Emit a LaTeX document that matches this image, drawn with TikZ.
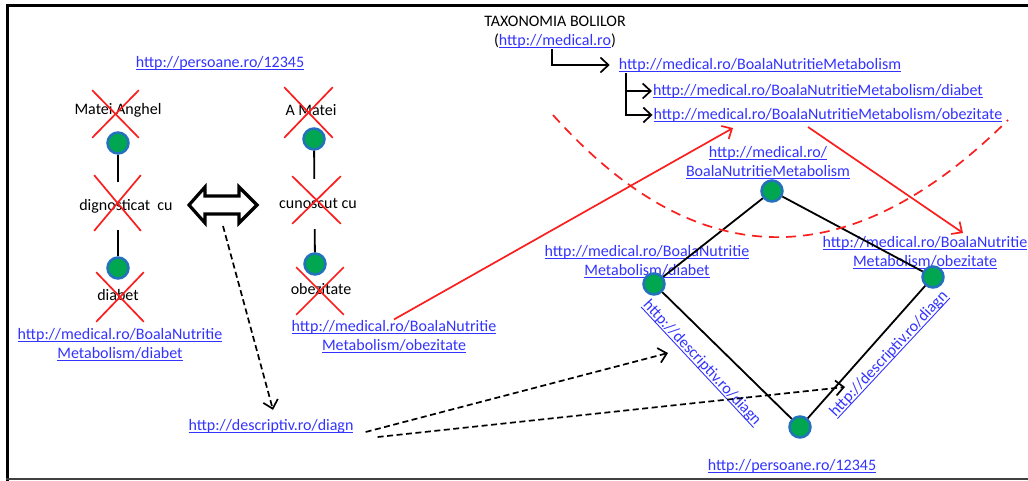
\documentclass[tikz,border=0pt]{standalone}
\usepackage{fontspec}
\setmainfont{Carlito}
\usetikzlibrary{arrows.meta,shapes.misc}
\definecolor{linkblue}{RGB}{51,51,255}
\definecolor{xred}{RGB}{250,30,30}
\definecolor{dotgreen}{RGB}{0,166,80}
\definecolor{dotblue}{RGB}{36,113,190}
% underlined hyperlink-style text
\newcommand\lnk[1]{\setbox0=\hbox{#1}\rlap{\rule[-2.6pt]{\wd0}{0.9pt}}\box0}
\tikzset{
  txt/.style={text=black, font=\fontsize{16}{19}\selectfont, align=center, inner sep=1pt},
  weblink/.style={txt, text=linkblue},
  dot/.style={circle, fill=dotgreen, draw=dotblue, line width=2.5pt, minimum size=21pt, inner sep=0pt},
  xmark/.style={cross out, draw=xred, line width=1.7pt, inner sep=0pt},
  edge/.style={line width=1.8pt},
  redarrow/.style={draw=xred, line width=1.7pt, -{Straight Barb[length=8pt,width=15pt]}},
  reddash/.style={draw=xred, line width=1.7pt, dash pattern=on 10pt off 7pt},
  dasharrow/.style={line width=1.7pt, dash pattern=on 6pt off 3.5pt, -{Straight Barb[length=8pt,width=15pt]}},
  taxarrow/.style={line width=1.7pt, -{Straight Barb[length=8pt,width=15pt]}, rounded corners=0pt},
}
\begin{document}
\begin{tikzpicture}[x=1pt, y=-1pt]
\useasboundingbox (0,0) rectangle (1028,481);
% frame
\draw[line width=3.5pt] (7.5,481) -- (7.5,5.5) -- (1028,5.5);
\draw[line width=2pt, black!75] (6,479) -- (1028,479);

% ---------- disease taxonomy ----------
\node[txt] (taxt) at (555,21) {TAXONOMIA BOLILOR};
\node[txt] (root) at (555,41) {(\textcolor{linkblue}{\lnk{http://medical.ro}})};
\node[weblink] (bnm) at (760,65) {\lnk{http://medical.ro/BoalaNutritieMetabolism}};
\node[weblink] (tdiab) at (818,91) {\lnk{http://medical.ro/BoalaNutritieMetabolism/diabet}};
\node[weblink] (tobez) at (828,115) {\lnk{http://medical.ro/BoalaNutritieMetabolism/obezitate}};
\draw[taxarrow, shorten >=8pt] ([xshift=-3pt]root.south) |- (bnm.west);
\draw[taxarrow] ([xshift=8pt]bnm.south west) |- (tdiab.west);
\draw[taxarrow] ([xshift=8pt]bnm.south west) |- (tobez.west);

% ---------- left graph ----------
\node[weblink] (p1) at (220,63) {\lnk{http://persoane.ro/12345}};
\node[dot] (la) at (118,143) {};
\node[dot] (lb) at (118,268) {};
\draw[edge] (la) -- (lb);
\node[txt] (matei) at (118,110) {Matei Anghel};
\node[txt, fill=white, minimum height=48pt] (dign) at (126,206) {dignosticat\ \ cu};
\node[txt] (diab) at (118,295) {diabet};
\node[weblink] (diaburl) at (120,344.5) {\lnk{http://medical.ro/BoalaNutritie}\\\lnk{Metabolism/diabet}};

% ---------- middle graph ----------
\node[dot] (ma) at (314,139) {};
\node[dot] (mb) at (315,264) {};
\draw[edge] (ma) -- (mb);
\node[txt] (amatei) at (311,110) {A Matei};
\node[txt, fill=white, minimum height=50pt] (cun) at (318,204) {cunoscut cu};
\node[txt] (obez) at (321,289) {obezitate};
\node[weblink] (obzurl) at (394,337) {\lnk{http://medical.ro/BoalaNutritie}\\\lnk{Metabolism/obezitate}};

% crossed-out labels
\node[xmark, minimum width=45pt, minimum height=46pt] (x1) at (115.5,114) {};
\node[xmark, minimum width=47pt, minimum height=49pt] (x2) at (308.5,112.5) {};
\node[xmark, minimum width=45pt, minimum height=54pt] (x3) at (117.5,203) {};
\node[xmark, minimum width=47pt, minimum height=46pt] (x4) at (316.5,200) {};
\node[xmark, minimum width=46pt, minimum height=48pt] (x5) at (120,297) {};
\node[xmark, minimum width=46pt, minimum height=46pt] (x6) at (320,291) {};

% equivalence double arrow
\draw[line width=3.2pt, line join=miter, fill=white]
  (189,205) -- (205,187) -- (205,196) -- (239,196) -- (239,187) -- (257,205)
  -- (239,223) -- (239,214) -- (205,214) -- (205,223) -- cycle;
\coordinate (dblbottom) at (223,226);

% ---------- shared predicate ----------
\node[weblink] (desc) at (271,426) {\lnk{http://descriptiv.ro/diagn}};
\draw[dasharrow] (dblbottom) -- ([xshift=2pt, yshift=8pt]desc.north);

% ---------- merged graph ----------
\node[weblink] (topurl) at (768,162.5) {\lnk{http://medical.ro/}\\\lnk{BoalaNutritieMetabolism}};
\node[weblink] (lefturl) at (647,261.5) {\lnk{http://medical.ro/BoalaNutritie}\\\lnk{Metabolism/diabet}};
\node[weblink] (righturl) at (925,252.5) {\lnk{http://medical.ro/BoalaNutritie}\\\lnk{Metabolism/obezitate}};
\node[weblink] (boturl) at (792,466) {\lnk{http://persoane.ro/12345}};
\node[weblink, rotate=-47] (dl) at (702,363) {\lnk{http://descriptiv.ro/diagn}};
\node[weblink, rotate=47] (dr) at (889,354) {\lnk{http://descriptiv.ro/diagn}};

\node[dot] (c1) at (772,191) {};
\node[dot] (c2) at (654,284) {};
\node[dot] (c3) at (800,427) {};
\node[dot] (c4) at (933,277) {};
\draw[edge] (c1) -- (c2);
\draw[edge] (c1) -- (c4);
\draw[edge] (c2) -- (c3);
\draw[edge] (c3) -- (c4);

% predicate reuse
\coordinate (t1) at (668,353);
\coordinate (t2) at (845,387);
\draw[dasharrow] ([xshift=11pt, yshift=-6pt]desc.east) -- (t1);
\draw[dasharrow] ([xshift=23pt, yshift=-11pt]desc.east) -- (t2);

% taxonomy boundary and mappings
\coordinate (arcA) at (553,115);
\coordinate (arcB) at (1008,120);
\draw[reddash] (arcA) .. controls (697,276) and (849,278) .. (arcB);
\coordinate (r1end) at (733,128);
\coordinate (r2start) at (808,127);
\coordinate (r2end) at (963,233);
\draw[redarrow] (obzurl.north) -- (r1end);
\draw[redarrow] (r2start) -- (r2end);
\end{tikzpicture}
\end{document}
